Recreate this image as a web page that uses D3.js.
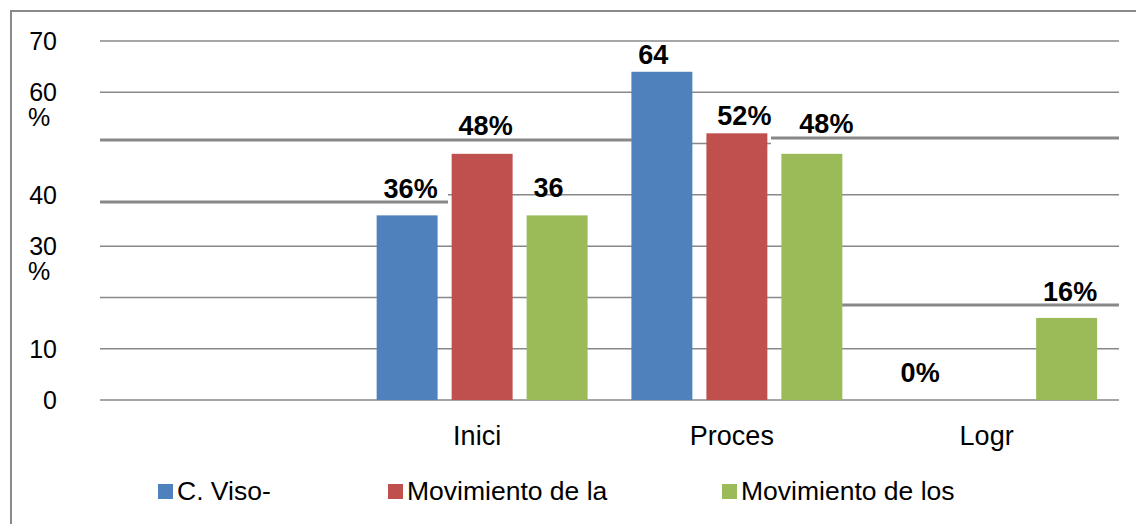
<!DOCTYPE html>
<html>
<head>
<meta charset="utf-8">
<script src="https://cdn.jsdelivr.net/npm/d3@7"></script>
<style>
    body { margin: 0; background: #fff; }
    text { font-family: "Liberation Sans", Arial, sans-serif; }
</style>
</head>
<body>
<div id="bar-chart"></div>
<script>
// chart data
let categories = ["", "Inici", "Proces", "Logr"];
let seriesNames = ["C. Viso-", "Movimiento de la", "Movimiento de los"];
let seriesColors = ["#4f81bd", "#c0504d", "#9bbb59"];
let viso = [null, 36, 64, 0];
let movLa = [null, 48, 52, 0];
let movLos = [null, 36, 48, 16];
let visoLabels = ["", "36%", "64", "0%"];
let movLaLabels = ["", "48%", "52%", ""];
let movLosLabels = ["", "36", "48%", "16%"];
let tickValues = [0, 10, 20, 30, 40, 50, 60, 70];
let tickLabels = ["0", "10", "", "30\n%", "40", "", "60\n%", "70"];

// the gridlines in the source are broken up, some pieces sit a little off their value
// v = value, from/to = position in category bands (0..4), w = stroke width
let gridPieces = [
    {v: 0, from: 0, to: 4, w: 1.5},
    {v: 10, from: 0, to: 4, w: 1.5},
    {v: 20, from: 0, to: 2.913, w: 1.5},
    {v: 18.5, from: 2.913, to: 4, w: 3},
    {v: 30, from: 0, to: 4, w: 1.5},
    {v: 38.6, from: 0, to: 1.366, w: 3},
    {v: 40, from: 1.366, to: 4, w: 1.5},
    {v: 50.7, from: 0, to: 2.088, w: 3},
    {v: 50, from: 2.088, to: 2.634, w: 1.5},
    {v: 51.1, from: 2.634, to: 4, w: 3},
    {v: 60, from: 0, to: 4, w: 1.5},
    {v: 70, from: 0, to: 4, w: 1.5}
];

// small nudges of the value labels, as placed in the source
let labelNudge = [
    [[0, 0], [3.5, 0], [-8.5, 9], [3.5, -1]],
    [[0, 0], [3.5, -2], [7.5, 9], [0, 0]],
    [[0, 0], [-8.5, -1], [14.5, -4], [3.5, 0]]
];

class BarChart {

    constructor() {
        this.width = 1136;
        this.height = 524;
        this.left = 100;
        this.right = 1119;
        this.top = 41;
        this.bottom = 400;
    }

    draw() {
        let svg = d3.select("#bar-chart").append("svg")
            .attr("width", this.width)
            .attr("height", this.height);

        // outer frame, right and bottom edges fall off the page
        svg.append("rect")
            .attr("x", 11).attr("y", 11)
            .attr("width", 1200).attr("height", 600)
            .attr("fill", "none")
            .attr("stroke", "#8a8a8a")
            .attr("stroke-width", 2);

        let x = d3.scaleBand().domain(categories).range([this.left, this.right]).padding(0);
        let xs = d3.scaleBand().domain(seriesNames).range([0, x.bandwidth()])
            .paddingInner(0.187).paddingOuter(0.292);
        let xBand = d3.scaleLinear().domain([0, categories.length]).range([this.left, this.right]);
        let y = d3.scaleLinear().domain([0, 70]).range([this.bottom, this.top]);

        svg.append("g").selectAll("line")
            .data(gridPieces)
            .enter().append("line")
            .attr("x1", d => xBand(d.from))
            .attr("x2", d => xBand(d.to))
            .attr("y1", d => y(d.v))
            .attr("y2", d => y(d.v))
            .attr("stroke", "#888")
            .attr("stroke-width", d => d.w);

        // y tick labels, some with a second line
        let ticks = svg.append("g").selectAll("text")
            .data(tickValues)
            .enter().append("text")
            .attr("font-size", 25)
            .attr("fill", "#000");
        ticks.each(function(d, i) {
            let lines = tickLabels[i].split("\n");
            let t = d3.select(this);
            lines.forEach((s, k) => {
                t.append("tspan")
                    .attr("x", k == 0 ? 57 : 28)
                    .attr("y", y(d) + 9 + k * 25)
                    .attr("text-anchor", k == 0 ? "end" : "start")
                    .text(s);
            });
        });

        let allValues = [viso, movLa, movLos];
        let allLabels = [visoLabels, movLaLabels, movLosLabels];
        let bars = [];
        allValues.forEach((vals, si) => {
            vals.forEach((v, ci) => {
                bars.push({series: seriesNames[si], si: si, cat: categories[ci], ci: ci, value: v, label: allLabels[si][ci]});
            });
        });

        svg.append("g").selectAll("rect")
            .data(bars.filter(d => d.value))
            .enter().append("rect")
            .attr("x", d => x(d.cat) + xs(d.series))
            .attr("y", d => y(d.value))
            .attr("width", xs.bandwidth())
            .attr("height", d => y(0) - y(d.value))
            .attr("fill", d => seriesColors[d.si]);

        svg.append("g").selectAll("text")
            .data(bars.filter(d => d.label))
            .enter().append("text")
            .attr("x", d => x(d.cat) + xs(d.series) + xs.bandwidth() / 2 + labelNudge[d.si][d.ci][0])
            .attr("y", d => y(d.value) - 17 + labelNudge[d.si][d.ci][1])
            .attr("text-anchor", "middle")
            .attr("font-size", 27)
            .attr("font-weight", "bold")
            .attr("fill", "#000")
            .text(d => d.label);

        // category labels
        svg.append("g").selectAll("text")
            .data(categories)
            .enter().append("text")
            .attr("x", d => x(d) + x.bandwidth() / 2 - 5)
            .attr("y", 445)
            .attr("text-anchor", "middle")
            .attr("font-size", 27)
            .attr("fill", "#000")
            .text(d => d);

        this.drawLegend(svg);
    }

    drawLegend(svg) {
        let legendX = [158, 388, 722];
        let item = svg.append("g").selectAll("g")
            .data(seriesNames)
            .enter().append("g")
            .attr("transform", (d, i) => "translate(" + legendX[i] + ",484)");
        item.append("rect")
            .attr("width", 15).attr("height", 15)
            .attr("fill", (d, i) => seriesColors[i]);
        item.append("text")
            .attr("x", 19).attr("y", 16)
            .attr("font-size", 26.5)
            .attr("fill", "#000")
            .text(d => d);
    }
}

let chart = new BarChart();
chart.draw();
</script>
</body>
</html>
